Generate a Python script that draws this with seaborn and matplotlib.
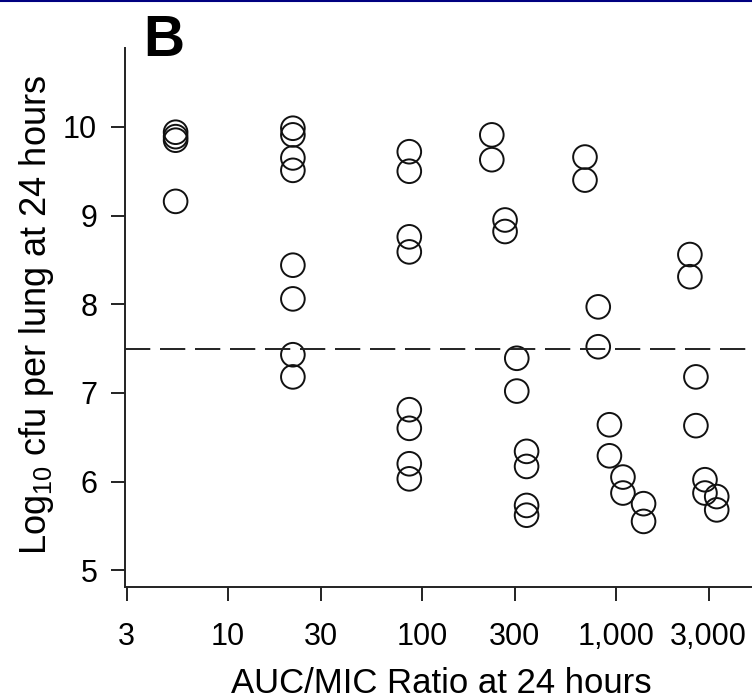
import matplotlib
matplotlib.use("Agg")
import matplotlib.pyplot as plt
from matplotlib.lines import Line2D
import pandas as pd
import seaborn as sns

# AUC/MIC ratio at 24 h (x) and log10 cfu per lung (y)
auc_mic = [
    5.37, 5.37, 5.37, 5.37,
    21.6, 21.6, 21.6, 21.6, 21.6, 21.6, 21.6, 21.6,
    86, 86, 86, 86, 86, 86, 86, 86,
    229, 229, 268, 268, 308, 308, 346, 346, 346, 346,
    692, 692, 810, 810, 925, 925, 1086, 1086, 1387, 1387,
    2404, 2404, 2582, 2582, 2875, 2875, 3305, 3305,
]
log_cfu = [
    9.94, 9.89, 9.85, 9.16,
    9.985, 9.91, 9.65, 9.51, 8.44, 8.06, 7.43, 7.18,
    9.72, 9.50, 8.76, 8.59, 6.81, 6.60, 6.20, 6.03,
    9.91, 9.63, 8.95, 8.82, 7.39, 7.02, 6.34, 6.17, 5.73, 5.62,
    9.66, 9.40, 7.97, 7.52, 6.64, 6.29, 6.05, 5.87, 5.75, 5.55,
    8.56, 8.31, 7.18, 6.63, 6.02, 5.87, 5.83, 5.68,
]
stasis_level = 7.5

x_ticks = [3, 10, 30, 100, 300, 1000, 3000]
x_tick_labels = ["3", "10", "30", "100", "300", "1,000", "3,000"]
y_ticks = [5, 6, 7, 8, 9, 10]

sns.set_style("ticks")
plt.rcParams["font.family"] = ["Liberation Sans", "DejaVu Sans"]
plt.rcParams["mathtext.fontset"] = "custom"
plt.rcParams["mathtext.rm"] = "Liberation Sans"
plt.rcParams["mathtext.it"] = "Liberation Sans:italic"
plt.rcParams["text.color"] = "black"
plt.rcParams["axes.labelcolor"] = "black"
plt.rcParams["xtick.color"] = "black"
plt.rcParams["ytick.color"] = "black"

df = pd.DataFrame({"auc_mic": auc_mic, "log_cfu": log_cfu})

fig = plt.figure(figsize=(7.52, 7.0), dpi=100)
ax = fig.add_axes([125 / 752, 1 - 587 / 700, 627 / 752, 539 / 700])

sns.scatterplot(
    data=df, x="auc_mic", y="log_cfu", ax=ax,
    marker="o", s=290, facecolor="none", edgecolor="#111111", linewidth=1.4,
    legend=False,
)
ax.axhline(stasis_level, color="#222222", lw=1.4, ls=(0, (13, 5)), zorder=1)

ax.set_xscale("log")
ax.set_xlim(2.945, 5024)
ax.set_ylim(4.81, 10.89)
ax.set_xticks(x_ticks)
ax.set_xticklabels(x_tick_labels)
ax.xaxis.set_minor_locator(matplotlib.ticker.NullLocator())
ax.set_yticks(y_ticks)

ax.tick_params(axis="both", direction="out", width=1.4, length=10, labelsize=22,
               color="#222222", labelcolor="black")
ax.tick_params(axis="x", pad=15)
ax.tick_params(axis="y", pad=10)

for side in ["top", "right"]:
    ax.spines[side].set_visible(False)
for side in ["left", "bottom"]:
    ax.spines[side].set_linewidth(1.4)
    ax.spines[side].set_color("#222222")

ax.set_xlabel("AUC/MIC Ratio at 24 hours", fontsize=25, color="black")
ax.set_ylabel(r"Log$_{10}$ cfu per lung at 24 hours", fontsize=26, color="black")
ax.xaxis.set_label_coords(0.505, -0.148)
ax.yaxis.set_label_coords(-0.110, 0.505)

fig.text(143 / 752, 1 - 14 / 700, "B", fontsize=41, fontweight="bold", ha="left", va="top",
         color="black")
fig.add_artist(Line2D([0, 1], [0.998, 0.998], color="#000080", lw=1.5, transform=fig.transFigure))

fig.savefig("out.png", dpi=100)
